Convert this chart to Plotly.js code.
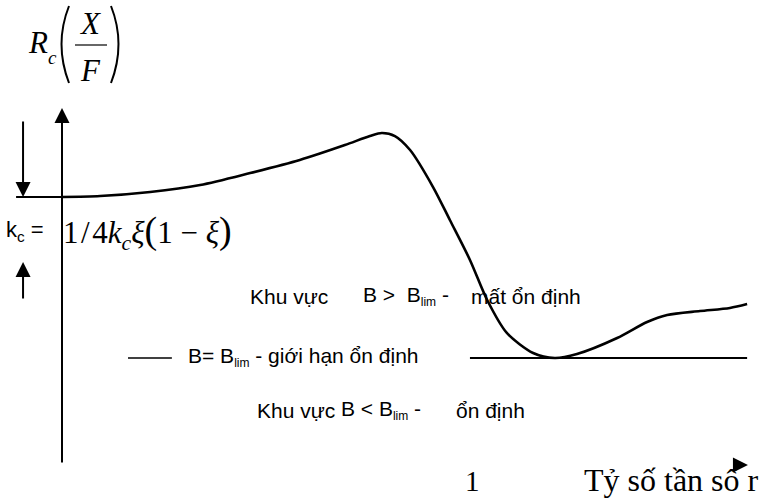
<!DOCTYPE html>
<html>
<head>
<meta charset="utf-8">
<script src="https://cdn.plot.ly/plotly-3.0.1.min.js"></script>
<style>
  html, body { margin: 0; padding: 0; background: #fff; }
  #chart { width: 760px; height: 503px; }
</style>
</head>
<body>
<div id="chart"></div>
<script>
// Frequency ratio r (horizontal) and the response R_c(X/F) (vertical)
const ratio = [0, 0.093, 0.215, 0.337, 0.459, 0.580, 0.690, 0.751, 0.780, 0.812,
               0.849, 0.905, 0.946, 0.995, 1.037, 1.085, 1.149, 1.202, 1.256,
               1.354, 1.427, 1.476, 1.556, 1.629, 1.671];
const response = [2.519, 2.528, 2.566, 2.632, 2.745, 2.868, 3.009, 3.094, 3.123, 3.094,
                  2.962, 2.613, 2.302, 1.925, 1.547, 1.236, 1.047, 1.000, 1.038,
                  1.189, 1.340, 1.406, 1.443, 1.472, 1.509];

// Stability limit B = B_lim and the k_c level
const limitLevel = 1.0;
const limitLeft = [0.161, 0.268];
const limitRight = [0.995, 1.671];
const kcLevel = 2.519;
const kcSpan = [-0.112, 0];

// Axis extents
const axisTop = 3.358;
const axisEndR = 1.673;
const xTickVals = [1];
const xTickText = ['1'];

const W = 760, H = 503;
const px = x => x / W;
const py = y => 1 - y / H;

const SANS = 'Liberation Sans, Arial, sans-serif';
const SERIF = 'Liberation Serif, Times New Roman, serif';
const black = '#000';
const LIM = '<sub><span style="font-size:12px">lim</span></sub>';
const HAIR = '\u200A';

const traces = [
  { // response curve
    x: ratio, y: response, type: 'scatter', mode: 'lines',
    line: { color: black, width: 2.6, shape: 'spline', smoothing: 0.8 },
    hoverinfo: 'skip'
  },
  { // B = B_lim, left piece
    x: limitLeft, y: [limitLevel, limitLevel], type: 'scatter', mode: 'lines',
    line: { color: black, width: 1.6 }, hoverinfo: 'skip'
  },
  { // B = B_lim, right piece
    x: limitRight, y: [limitLevel, limitLevel], type: 'scatter', mode: 'lines',
    line: { color: black, width: 2 }, hoverinfo: 'skip'
  },
  { // k_c level
    x: kcSpan, y: [kcLevel, kcLevel], type: 'scatter', mode: 'lines',
    line: { color: black, width: 2 }, hoverinfo: 'skip'
  }
];

function arrow(x, y, ax, ay) {
  return {
    x: x, y: y, ax: ax, ay: ay, xref: 'x', yref: 'y', axref: 'x', ayref: 'y',
    text: '', showarrow: true, arrowhead: 2, arrowsize: 1.5, arrowwidth: 2,
    arrowcolor: black, standoff: 0, startstandoff: 0
  };
}

function label(text, x, y, opts) {
  return Object.assign({
    text: text, x: px(x), y: py(y), xref: 'paper', yref: 'paper',
    showarrow: false, xanchor: 'left', yanchor: 'middle',
    font: { family: SANS, size: 21, color: black }
  }, opts || {});
}

const serif = size => ({ family: SERIF, size: size, color: black });

const annotations = [
  // vertical axis with arrow
  arrow(0, axisTop, 0, 0),
  // down / up arrows bracketing k_c
  arrow(-0.095, kcLevel, -0.095, 3.245),
  arrow(-0.095, 1.906, -0.095, 1.547),
  // horizontal axis arrow head
  arrow(axisEndR, -0.01, axisEndR - 0.035, -0.01),

  // region labels
  label('Khu vực', 248, 296),
  label('B &gt;  B' + LIM + ' -', 361, 296),
  label('mất ổn định', 469, 296),
  label('B= B' + LIM + ' - giới hạn ổn định', 186, 357),
  label('Khu vực', 255, 410),
  label('B &lt; B' + LIM + ' -', 339, 410),
  label('ổn định', 454, 410),

  // k_c expression
  label('k<sub>c</sub> =', 4, 231, { font: { family: SANS, size: 22, color: black } }),
  label('1' + HAIR + '/' + HAIR + '4<i>k<sub>c</sub>ξ</i><span style="font-size:38px">(</span>1 − <i>ξ</i>' +
        '<span style="font-size:38px">)</span>', 61, 232, { font: serif(31) }),

  // vertical axis title R_c(X/F)
  label('<i>R</i>', 26, 43, { font: serif(31) }),
  label('<i>c</i>', 46, 57, { font: serif(19) }),
  label('<i>X</i>', 90, 24, { xanchor: 'center', font: serif(31) }),
  label('<i>F</i>', 90, 70, { xanchor: 'center', font: serif(31) }),

  // horizontal axis tick and title
  { text: xTickText[0], x: xTickVals[0], y: py(481), xref: 'x', yref: 'paper',
    showarrow: false, xanchor: 'center', yanchor: 'middle', font: serif(29) },
  label('Tỷ số tần số r', 582, 480, { font: serif(32) })
];

const shapes = [
  // fraction bar
  { type: 'line', xref: 'paper', yref: 'paper', x0: px(75), x1: px(107), y0: py(45), y1: py(45),
    line: { color: black, width: 1.2 } },
  // large parentheses around X/F
  { type: 'path', xref: 'paper', yref: 'paper',
    path: `M ${px(69)} ${py(6)} Q ${px(54)} ${py(44)} ${px(69)} ${py(83)}`,
    line: { color: black, width: 2 } },
  { type: 'path', xref: 'paper', yref: 'paper',
    path: `M ${px(111)} ${py(6)} Q ${px(126)} ${py(44)} ${px(111)} ${py(83)}`,
    line: { color: black, width: 2 } }
];

const layout = {
  width: W, height: H,
  margin: { l: 0, r: 0, t: 0, b: 0, pad: 0 },
  paper_bgcolor: '#fff', plot_bgcolor: '#fff',
  showlegend: false,
  xaxis: { range: [-62 / 410, 698 / 410], visible: false, fixedrange: true },
  yaxis: { range: [-39 / 106, 464 / 106], visible: false, fixedrange: true },
  annotations: annotations,
  shapes: shapes
};

Plotly.newPlot('chart', traces, layout, { staticPlot: true, displayModeBar: false });
</script>
</body>
</html>
